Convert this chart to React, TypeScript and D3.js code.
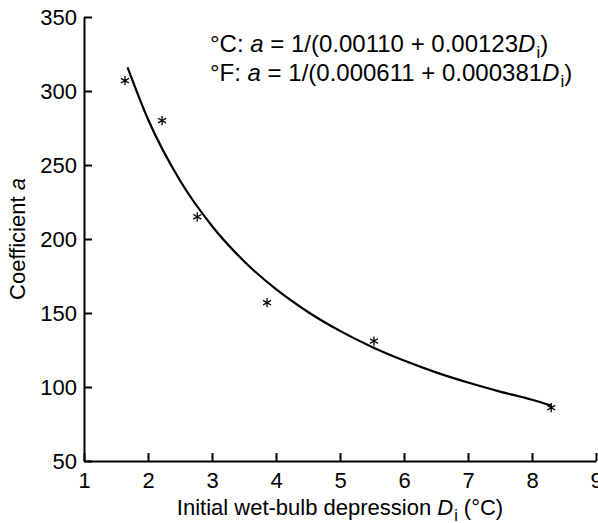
import React, { useEffect, useRef } from "react";
import * as d3 from "d3";

const pointD = [1.64, 2.22, 2.77, 3.86, 5.53, 8.3];
const pointA = [307, 280, 215, 157, 131, 86];

const curveD = [1.68, 2, 2.5, 3, 3.5, 4, 4.5, 5, 5.5, 6, 6.5, 7, 7.5, 8, 8.3];
const curveA = [316, 280.9, 239.5, 208.8, 185.0, 166.1, 150.7, 137.9, 127.1, 117.9, 109.9, 103.0, 96.9, 91.4, 87.5];

const xTicks = [1, 2, 3, 4, 5, 6, 7, 8, 9];
const yTicks = [50, 100, 150, 200, 250, 300, 350];

const W = 598;
const H = 523;
const FONT = "'Liberation Sans', Arial, Helvetica, sans-serif";

export default function App() {
  const xAxisRef = useRef<SVGGElement>(null);
  const yAxisRef = useRef<SVGGElement>(null);

  const x = d3.scaleLinear().domain([1, 9]).range([84, 596]);
  const y = d3.scaleLinear().domain([50, 350]).range([461, 17]);

  useEffect(() => {
    const gx = d3.select(xAxisRef.current!);
    gx.selectAll("*").remove();
    gx.call(
      d3.axisBottom(x).tickValues(xTicks).tickFormat(d3.format("d")).tickSizeInner(-8).tickSizeOuter(0).tickPadding(11)
    );
    gx.select(".domain").attr("stroke-width", 2).attr("stroke", "#000");
    gx.selectAll(".tick line").attr("stroke-width", 2).attr("stroke", "#000");
    gx.selectAll(".tick text").attr("font-size", 22).attr("font-family", FONT).attr("fill", "#000");

    const gy = d3.select(yAxisRef.current!);
    gy.selectAll("*").remove();
    gy.call(
      d3.axisLeft(y).tickValues(yTicks).tickFormat(d3.format("d")).tickSizeInner(-8).tickSizeOuter(0).tickPadding(7)
    );
    gy.select(".domain").attr("stroke-width", 2).attr("stroke", "#000");
    gy.selectAll(".tick line").attr("stroke-width", 2).attr("stroke", "#000");
    gy.selectAll(".tick text").attr("font-size", 22).attr("font-family", FONT).attr("fill", "#000");
  }, []);

  const line = d3
    .line<number>()
    .x((_, i) => x(curveD[i]))
    .y((d) => y(d))
    .curve(d3.curveMonotoneX);

  const star = d3.symbol().type(d3.symbolAsterisk).size(60);

  return (
    <svg
      width={W}
      height={H}
      style={{ position: "absolute", left: 0, top: 0, background: "#fff" }}
      fontFamily={FONT}
    >
      <rect width={W} height={H} fill="#fff" />
      <g ref={xAxisRef} transform={`translate(0,${y(50)})`} />
      <g ref={yAxisRef} transform={`translate(${x(1)},0)`} />

      <path d={line(curveA) || ""} fill="none" stroke="#000" strokeWidth={2.2} />

      {pointD.map((d, i) => (
        <path
          key={i}
          d={star() || ""}
          transform={`translate(${x(d)},${y(pointA[i])})`}
          fill="none"
          stroke="#000"
          strokeWidth={1.3}
        />
      ))}

      <text x={210} y={52} fontSize={24} fill="#000">
        °C: <tspan fontStyle="italic">a</tspan> = 1/(0.00110 + 0.00123
        <tspan fontStyle="italic">D</tspan>
        <tspan fontSize={17} dx={1} dy={6}>i</tspan>
        <tspan dy={-6}>)</tspan>
      </text>
      <text x={210} y={81} fontSize={24} fill="#000">
        °F: <tspan fontStyle="italic">a</tspan> = 1/(0.000611 + 0.000381
        <tspan fontStyle="italic">D</tspan>
        <tspan fontSize={17} dx={1} dy={6}>i</tspan>
        <tspan dy={-6}>)</tspan>
      </text>

      <text x={340} y={515} fontSize={22} textAnchor="middle" fill="#000">
        Initial wet-bulb depression <tspan fontStyle="italic">D</tspan>
        <tspan fontSize={16} dx={1} dy={6}>i</tspan>
        <tspan dy={-6}> (°C)</tspan>
      </text>

      <text
        transform={`translate(25,${(y(50) + y(350)) / 2}) rotate(-90)`}
        fontSize={22}
        textAnchor="middle"
        fill="#000"
      >
        Coefficient <tspan fontStyle="italic">a</tspan>
      </text>
    </svg>
  );
}
